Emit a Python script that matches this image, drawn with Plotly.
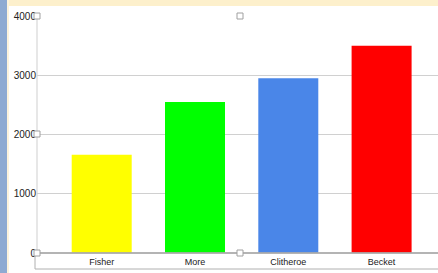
import plotly.graph_objects as go

categories = ["Fisher", "More", "Clitheroe", "Becket"]
values = [1660, 2550, 2950, 3500]
bar_colors = ["#ffff00", "#00ff00", "#4a86e8", "#ff0000"]
y_ticks = [0, 1000, 2000, 3000, 4000]

W, H = 438, 273
L, R, T, B = 37, 0, 16, 20
PW = W - L - R
PH = H - T - B

fig = go.Figure(go.Bar(
    x=categories, y=values, marker=dict(color=bar_colors, line=dict(width=0)),
    width=0.643, hoverinfo="x+y",
))

band = 93.3
x0 = -(101.7 - L) / band
x1 = x0 + PW / band

fig.update_layout(
    width=W, height=H,
    margin=dict(l=L, r=R, t=T, b=B, pad=0),
    paper_bgcolor="white", plot_bgcolor="white",
    showlegend=False,
    font=dict(family="Liberation Sans, Arial, sans-serif", size=10, color="#222222"),
    xaxis=dict(range=[x0, x1], showgrid=False, showline=False, zeroline=False,
               ticks="", tickfont=dict(size=9, color="#222222"), fixedrange=True,
               ticklabelstandoff=2),
    yaxis=dict(range=[0, 4000], tickvals=y_ticks, showgrid=True, gridcolor="#d0d0d0",
               gridwidth=1, zeroline=False, showline=False, ticks="",
               tickfont=dict(size=10, color="#222222"), fixedrange=True),
)

def pshape(xa, ya, px0, px1, py0, py1, **kw):
    fig.add_shape(type="rect", xref="paper", yref="paper", xsizemode="pixel", ysizemode="pixel",
                  xanchor=xa, yanchor=ya, x0=px0, x1=px1, y0=py0, y1=py1, layer=kw.pop("layer", "above"), **kw)

# y axis line
fig.add_shape(type="line", xref="paper", yref="paper", x0=0, x1=0, y0=0, y1=1,
              line=dict(color="#cfcfcf", width=1), layer="below")
# category label box
pshape(0, 0, -2, PW + 10, 0, -16, line=dict(color="#b0b0b0", width=1), fillcolor="rgba(0,0,0,0)")
# zero line
fig.add_shape(type="line", xref="paper", yref="paper", x0=0, x1=1, y0=0, y1=0,
              line=dict(color="#a8a8a8", width=1.5))
# frame strips
pshape(0, 1, -L, -L + 7, -H, T + 2, line=dict(width=0), fillcolor="#8eaad2")
pshape(0, 1, -L + 7, -L + 9, -H, T + 2, line=dict(width=0), fillcolor="#fdf3dc")
pshape(0, 1, -L + 9, PW + 5, T - 6, T + 2, line=dict(width=0), fillcolor="#fdf0cc")
# selection handles
for hx, hy, ya in [(0, 0, 1), (203, 0, 1), (0, -118, 1), (0, 0, 0), (203, 0, 0)]:
    pshape(0, ya, hx - 3, hx + 3, hy - 3, hy + 3, line=dict(color="#a0a0a0", width=1), fillcolor="white")

fig.write_html("out.html", config={"displayModeBar": False},
               post_script="document.body.style.margin='0';document.body.style.overflow='hidden';")
